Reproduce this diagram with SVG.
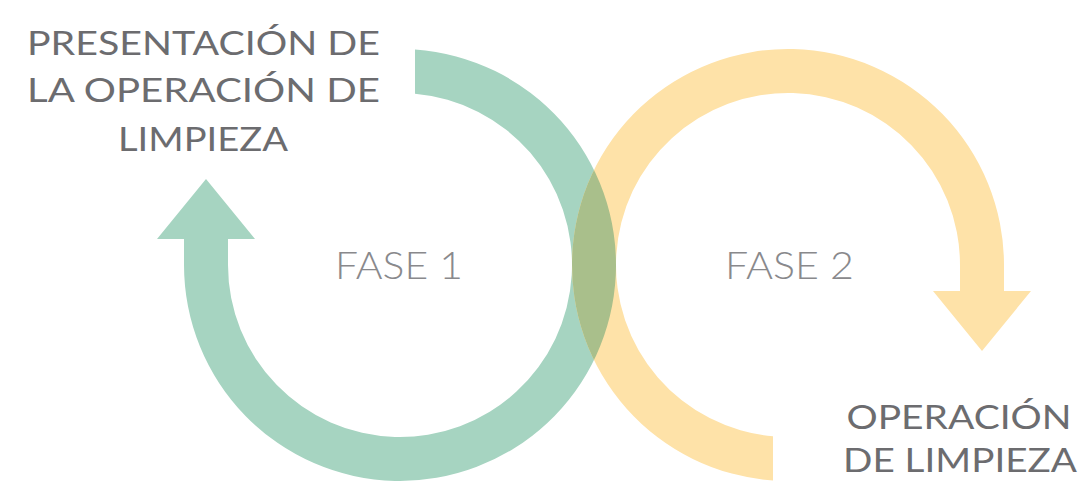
<svg xmlns="http://www.w3.org/2000/svg" width="1081" height="484" viewBox="0 0 1081 484">
<style>
.lbl{font-family:Lato,"Open Sans","Liberation Sans",sans-serif;font-size:32px;fill:#6c6c6f;text-anchor:middle}
.fase{font-family:Lato,"Open Sans","Liberation Sans",sans-serif;font-size:38px;font-weight:300;fill:#89898c;text-anchor:middle}
</style>
<defs>
<path id="loop" d="M415,49.5 A216,216 0 1 1 184,265 L184,239 L157,239 L206,179 L255,239 L228,239 L228,265 A172,172 0 1 0 415,93.7 Z"/>
<clipPath id="greenClip"><use href="#loop"/></clipPath>
</defs>
<rect width="1081" height="484" fill="#ffffff"/>
<g id="connectors">
<g id="phase1-arrow"><use href="#loop" fill="#a6d4c1"/></g>
<g id="phase2-arrow"><use href="#loop" fill="#fee2a8" transform="rotate(180 594 265)"/></g>
<g id="overlap" clip-path="url(#greenClip)"><use href="#loop" fill="#a9bf8b" transform="rotate(180 594 265)"/></g>
</g>
<g id="node-fase1"><text class="fase" x="399" y="279" textLength="128" lengthAdjust="spacingAndGlyphs">FASE 1</text></g>
<g id="node-fase2"><text class="fase" x="789.5" y="279" textLength="129" lengthAdjust="spacingAndGlyphs">FASE 2</text></g>
<g id="node-presentacion">
<text class="lbl" x="203.5" y="55" textLength="353" lengthAdjust="spacingAndGlyphs">PRESENTACIÓN DE</text>
<text class="lbl" x="203.5" y="102" textLength="353" lengthAdjust="spacingAndGlyphs">LA OPERACIÓN DE</text>
<text class="lbl" x="203" y="150.5" textLength="170" lengthAdjust="spacingAndGlyphs">LIMPIEZA</text>
</g>
<g id="node-operacion">
<text class="lbl" x="959" y="428.5" textLength="225" lengthAdjust="spacingAndGlyphs">OPERACIÓN</text>
<text class="lbl" x="960" y="472" textLength="234" lengthAdjust="spacingAndGlyphs">DE LIMPIEZA</text>
</g>
</svg>
